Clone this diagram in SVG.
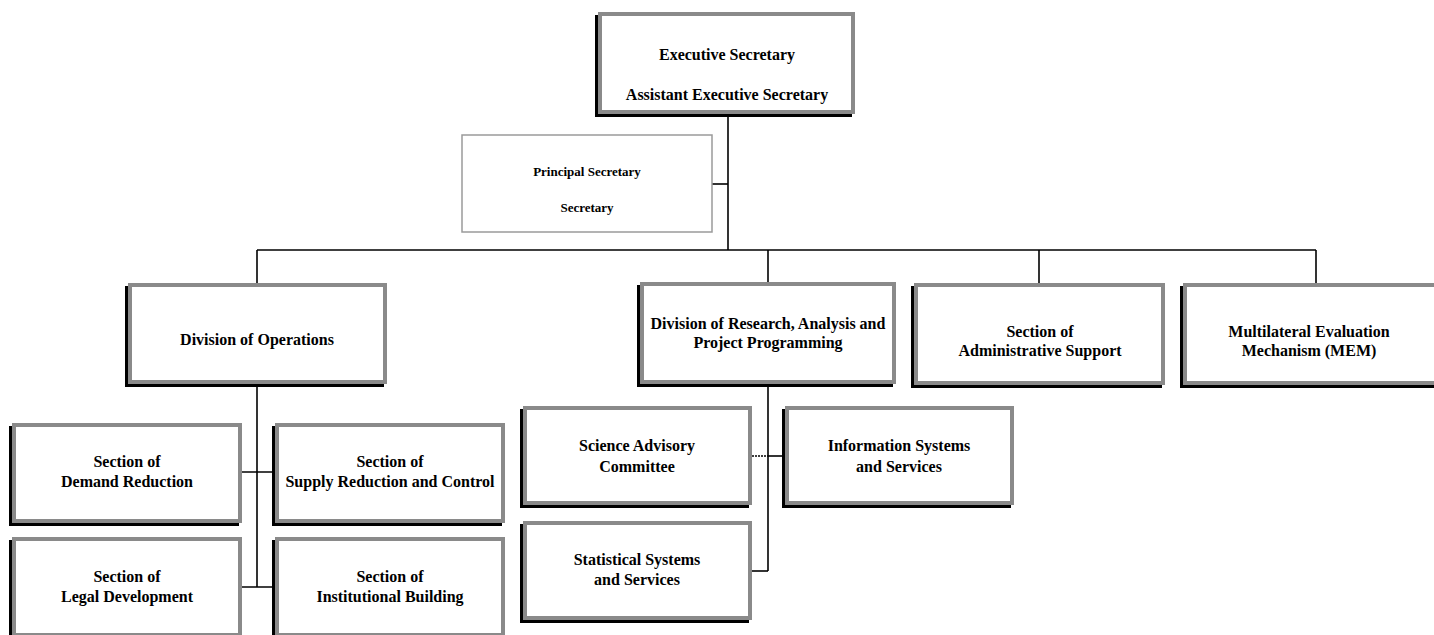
<svg xmlns="http://www.w3.org/2000/svg" width="1434" height="635" viewBox="0 0 1434 635">
<defs>
<style>
.sh{fill:#000}
.bx{fill:#fff;stroke:#8a8a8a;stroke-width:4}
.pb{fill:#fff;stroke:#9a9a9a;stroke-width:1.5}
.t{font-family:"Liberation Serif","Times New Roman",serif;font-weight:bold;font-size:16px;fill:#000;text-anchor:middle}
.ts{font-family:"Liberation Serif","Times New Roman",serif;font-weight:bold;font-size:13px;fill:#000;text-anchor:middle}
.ln{stroke:#000;stroke-width:1.6;fill:none}
.dt{stroke:#000;stroke-width:1.6;fill:none;stroke-dasharray:2 1}
</style>
</defs>
<rect width="1434" height="635" fill="#fff"/>
<g id="connectors">
<line class="ln" x1="728" y1="114" x2="728" y2="250"/>
<line class="ln" x1="712" y1="184" x2="728" y2="184"/>
<line class="ln" x1="257" y1="250" x2="1316" y2="250"/>
<line class="ln" x1="257" y1="250" x2="257" y2="283"/>
<line class="ln" x1="768" y1="250" x2="768" y2="282"/>
<line class="ln" x1="1039" y1="250" x2="1039" y2="283"/>
<line class="ln" x1="1316" y1="250" x2="1316" y2="283"/>
<line class="ln" x1="257" y1="384" x2="257" y2="587"/>
<line class="ln" x1="242" y1="472" x2="275" y2="472"/>
<line class="ln" x1="242" y1="587" x2="275" y2="587"/>
<line class="ln" x1="768" y1="384" x2="768" y2="571"/>
<line class="dt" x1="752" y1="456" x2="768" y2="456"/>
<line class="ln" x1="768" y1="456" x2="785" y2="456"/>
<line class="ln" x1="752" y1="571" x2="768" y2="571"/>
</g>
<g id="exec">
<rect class="sh" x="595" y="15" width="257" height="102"/>
<rect class="bx" x="600" y="14" width="253" height="98"/>
<text class="t" x="727" y="60">Executive Secretary</text>
<text class="t" x="727" y="100">Assistant Executive Secretary</text>
</g>
<g id="principal">
<rect class="pb" x="462" y="135" width="250" height="97"/>
<text class="ts" x="587" y="176">Principal Secretary</text>
<text class="ts" x="587" y="212">Secretary</text>
</g>
<g id="div-ops">
<rect class="sh" x="125" y="286" width="259" height="101"/>
<rect class="bx" x="130" y="285" width="255" height="97"/>
<text class="t" x="257" y="345">Division of Operations</text>
</g>
<g id="div-research">
<rect class="sh" x="637" y="285" width="256" height="102"/>
<rect class="bx" x="642" y="284" width="252" height="98"/>
<text class="t" x="768" y="329">Division of Research, Analysis and</text>
<text class="t" x="768" y="348">Project Programming</text>
</g>
<g id="admin">
<rect class="sh" x="911" y="286" width="251" height="102"/>
<rect class="bx" x="916" y="285" width="247" height="98"/>
<text class="t" x="1040" y="337">Section of</text>
<text class="t" x="1040" y="356">Administrative Support</text>
</g>
<g id="mem">
<rect class="sh" x="1180" y="286" width="258" height="102"/>
<rect class="bx" x="1185" y="285" width="256" height="98"/>
<text class="t" x="1309" y="337">Multilateral Evaluation</text>
<text class="t" x="1309" y="356">Mechanism (MEM)</text>
</g>
<g id="demand">
<rect class="sh" x="9" y="426" width="230" height="100"/>
<rect class="bx" x="14" y="425" width="226" height="96"/>
<text class="t" x="127" y="467">Section of</text>
<text class="t" x="127" y="487">Demand Reduction</text>
</g>
<g id="supply">
<rect class="sh" x="272" y="426" width="230" height="100"/>
<rect class="bx" x="277" y="425" width="226" height="96"/>
<text class="t" x="390" y="467">Section of</text>
<text class="t" x="390" y="487">Supply Reduction and Control</text>
</g>
<g id="legal">
<rect class="sh" x="9" y="540" width="230" height="100"/>
<rect class="bx" x="14" y="539" width="226" height="96"/>
<text class="t" x="127" y="582">Section of</text>
<text class="t" x="127" y="602">Legal Development</text>
</g>
<g id="institutional">
<rect class="sh" x="272" y="540" width="230" height="100"/>
<rect class="bx" x="277" y="539" width="226" height="96"/>
<text class="t" x="390" y="582">Section of</text>
<text class="t" x="390" y="602">Institutional Building</text>
</g>
<g id="science">
<rect class="sh" x="520" y="409" width="229" height="99"/>
<rect class="bx" x="525" y="408" width="225" height="95"/>
<text class="t" x="637" y="451">Science Advisory</text>
<text class="t" x="637" y="472">Committee</text>
</g>
<g id="info">
<rect class="sh" x="782" y="409" width="229" height="99"/>
<rect class="bx" x="787" y="408" width="225" height="95"/>
<text class="t" x="899" y="451">Information Systems</text>
<text class="t" x="899" y="472">and Services</text>
</g>
<g id="statistical">
<rect class="sh" x="520" y="524" width="229" height="99"/>
<rect class="bx" x="525" y="523" width="225" height="95"/>
<text class="t" x="637" y="565">Statistical Systems</text>
<text class="t" x="637" y="585">and Services</text>
</g>
</svg>
